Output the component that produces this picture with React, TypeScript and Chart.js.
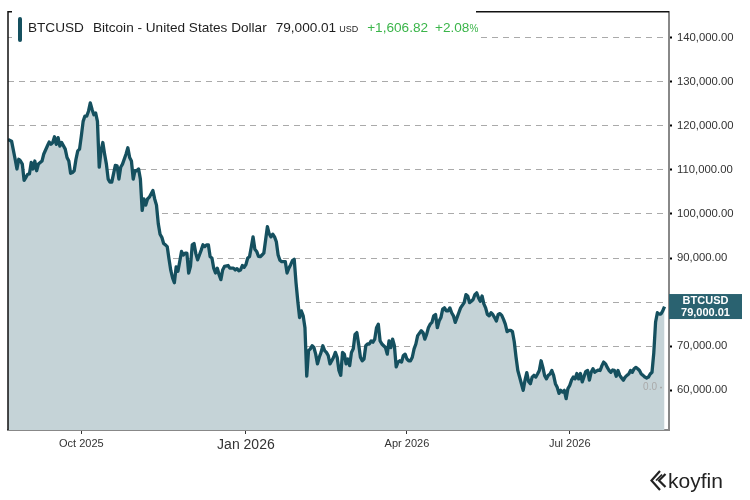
import React, { useEffect, useRef } from "react";
import { Chart, registerables } from "chart.js";

Chart.register(...registerables);

// Days counted from 2025-08-21
const dayIndex = [
  0, 2, 4, 5, 6, 7, 8, 9, 10, 11, 12, 13, 14, 15, 16, 17, 19, 20, 22, 23, 24, 25, 26, 27, 28, 29, 30, 32, 33, 34, 35, 36, 37, 38, 39, 40,
  41, 42, 43, 44, 45, 46, 47, 48, 49, 50, 51, 52, 53, 54, 55, 56, 57, 58, 60, 61, 62, 63, 64, 66, 67, 68, 69, 70, 71, 72, 73, 74, 75, 76,
  77, 78, 79, 81, 82, 83, 84, 85, 86, 87, 88, 89, 90, 91, 92, 93, 94, 95, 96, 97, 98, 99, 100, 101, 102, 103, 104, 105, 106, 107, 108,
  109, 110, 111, 112, 113, 114, 115, 116, 117, 118, 119, 120, 121, 123, 124, 126, 127, 128, 129, 130, 131, 132, 133, 134, 135, 136, 137,
  138, 139, 140, 141, 142, 143, 144, 145, 146, 147, 148, 149, 150, 151, 152, 153, 154, 155, 156, 157, 158, 159, 160, 161, 162, 163, 164,
  165, 166, 167, 168, 169, 170, 171, 172, 173, 174, 175, 176, 177, 178, 179, 180, 181, 182, 183, 184, 185, 186, 187, 188, 189, 190, 191,
  192, 193, 194, 195, 196, 197, 198, 199, 200, 201, 202, 203, 204, 205, 206, 207, 208, 209, 210, 211, 212, 213, 214, 215, 216, 217, 218,
  219, 220, 221, 222, 223, 224, 225, 226, 227, 228, 229, 231, 232, 233, 234, 235, 236, 237, 238, 239, 240, 241, 242, 243, 244, 245, 246,
  247, 248, 249, 250, 251, 252, 253, 255, 256, 257, 258, 259, 260, 261, 262, 263, 264, 265, 266, 267, 268, 269, 270, 271, 272, 273, 274,
  275, 276, 277, 278, 279, 280, 281, 282, 283, 284, 285, 286, 287, 288, 289, 290, 291, 292, 293, 294, 295, 296, 297, 298, 299, 300, 301,
  302, 303, 304, 305, 306, 307, 308, 309, 310, 311, 312, 313, 314, 315, 316, 317, 318, 319, 320, 321, 322, 323, 324, 325, 326, 327, 328,
  329, 330, 331, 332, 333, 334, 335, 336, 337, 338, 339, 340, 341, 342, 343, 344, 345, 346, 347, 348, 349, 350, 351, 352, 353, 354, 355,
  356, 357, 358, 359, 360, 361, 362, 363, 364, 365, 366, 367,
];

const prices = [
  116900, 116500, 112400, 110200, 112400, 112000, 111300, 107600, 108300, 109000, 109100, 111700, 110200, 112000, 109800, 111300, 112000,
  113600, 115400, 116300, 115800, 116200, 117500, 115800, 117300, 115400, 116200, 114700, 112800, 112000, 109200, 109400, 109800, 112400,
  114300, 114700, 117700, 121000, 122200, 122200, 123300, 125200, 123700, 122500, 122900, 121000, 110600, 114300, 116200, 113600, 111300,
  107900, 107200, 107200, 111000, 110900, 107900, 110600, 111300, 113600, 115000, 112800, 112000, 107900, 109800, 109800, 110200, 107900,
  100800, 103400, 102000, 103400, 103800, 105300, 103400, 102000, 97800, 95400, 94700, 93300, 93000, 92600, 89800, 87200, 85500, 84400,
  88000, 87000, 89200, 91500, 90700, 91100, 91100, 86600, 88100, 93000, 93300, 91000, 89600, 90700, 91800, 93000, 92600, 93000, 93000,
  90300, 90000, 87700, 86600, 87700, 86200, 85100, 87300, 88100, 88300, 87700, 87700, 87300, 87600, 87100, 87300, 88300, 87900, 88500,
  90000, 90300, 92500, 94800, 92000, 91500, 90400, 90300, 90700, 91100, 94100, 97100, 95500, 94800, 95400, 94800, 93700, 90700, 89500,
  89200, 89200, 89200, 86600, 87700, 88500, 89400, 89700, 84400, 80200, 76500, 78000, 76900, 74200, 63200, 69000, 69400, 70100, 69700,
  68200, 66000, 67500, 68600, 70100, 69000, 68600, 67900, 66000, 66700, 67500, 68600, 67500, 64500, 63400, 68600, 68200, 66000, 67100,
  65600, 68600, 69400, 72700, 73100, 70500, 67500, 66700, 67100, 70100, 70500, 70500, 71200, 70900, 71600, 74200, 75000, 71200, 70500,
  70100, 69700, 68200, 71200, 69700, 71600, 70100, 65300, 66400, 66700, 66400, 67900, 68200, 67100, 66700, 66700, 67500, 69400, 70500,
  72400, 73500, 73100, 71600, 72700, 74200, 75000, 75400, 76900, 77200, 74200, 75700, 76500, 78400, 78700, 78000, 78000, 78700, 77600,
  76900, 75400, 76500, 77600, 78700, 79900, 81700, 81400, 79900, 80200, 80600, 81700, 82100, 81000, 80200, 81400, 79600, 78700, 77200,
  76900, 77600, 77200, 76500, 75700, 77200, 77400, 77000, 76100, 75000, 73300, 73600, 73600, 73300, 71000, 67500, 64500, 63000, 61500,
  60000, 62300, 64000, 62000, 61500, 63000, 63400, 63000, 63700, 64500, 66700, 65200, 63300, 62600, 63400, 63700, 64500, 63400, 61500,
  60700, 59300, 60000, 59600, 60000, 58100, 60400, 61100, 62300, 63000, 62600, 63800, 62600, 63800, 61900, 63100, 64300, 64500, 62300,
  64100, 64900, 64100, 64400, 64600, 64500, 65600, 66400, 66000, 65200, 64500, 64100, 64600, 64500, 63200, 64500, 63400, 62800, 62300,
  63000, 63400, 63700, 64500, 64100, 64900, 65200, 64900, 64500, 63700, 63400, 63000, 62800, 63000, 63700, 64100, 68500, 75500, 77600,
  77300, 77300, 78000, 79000.01,
];

const xTickDays = [41, 133, 223, 314];
const xTickLabels = ["Oct 2025", "Jan 2026", "Apr 2026", "Jul 2026"];
const yTickValues = [60000, 70000, 80000, 90000, 100000, 110000, 120000, 130000, 140000];

const ticker = "BTCUSD";
const tickerName = "Bitcoin - United States Dollar";
const currency = "USD";
const changeAbs = "+1,606.82";
const changePct = "+2.08";
const markerLabel = "0.0";

const FONT = '"Liberation Sans", Arial, sans-serif';
const LINE = "#15505f";
const FILL = "#c5d3d7";
const BOX = "#2a6270";

const fmt2 = (v: number) =>
  v.toLocaleString("en-US", { minimumFractionDigits: 2, maximumFractionDigits: 2 });

const overlayPlugin = {
  id: "overlay",
  afterDraw(chart: any) {
    const { ctx, chartArea: a, scales } = chart;
    const last = prices[prices.length - 1];
    const y = scales.y.getPixelForValue(last);
    ctx.save();
    // frame lines (left + top)
    ctx.strokeStyle = "#111";
    ctx.lineWidth = 1.5;
    ctx.beginPath();
    ctx.moveTo(a.left, a.bottom);
    ctx.lineTo(a.left, a.top);
    ctx.lineTo(a.right, a.top);
    ctx.stroke();
    // marker label
    const my = scales.y.getPixelForValue(60000) - 3;
    ctx.fillStyle = "#aaa";
    ctx.font = `10px ${FONT}`;
    ctx.textAlign = "right";
    ctx.textBaseline = "middle";
    ctx.fillText(markerLabel, a.right - 12, my);
    ctx.fillRect(a.right - 9, my - 0.5, 2, 1.5);
    // last price box
    ctx.fillStyle = BOX;
    ctx.fillRect(a.right, y - 12.5, 73, 25);
    ctx.fillStyle = "#fff";
    ctx.font = `bold 11px ${FONT}`;
    ctx.textAlign = "center";
    ctx.fillText(ticker, a.right + 36.5, y - 5.5);
    ctx.fillText(fmt2(last), a.right + 36.5, y + 6);
    ctx.restore();
  },
};

export default function App() {
  const canvasRef = useRef<HTMLCanvasElement | null>(null);

  useEffect(() => {
    if (!canvasRef.current) return;
    Chart.defaults.font.family = FONT;
    const chart = new Chart(canvasRef.current, {
      type: "line",
      data: {
        datasets: [
          {
            data: dayIndex.map((d, i) => ({ x: d, y: prices[i] })),
            borderColor: LINE,
            backgroundColor: FILL,
            borderWidth: 3.3,
            fill: "start",
            pointRadius: 0,
            tension: 0,
            borderJoinStyle: "round",
          },
        ],
      },
      options: {
        animation: false,
        responsive: true,
        maintainAspectRatio: false,
        layout: { padding: { left: 8, top: 8, right: 0, bottom: 0 } },
        plugins: { legend: { display: false }, tooltip: { enabled: false } },
        scales: {
          x: {
            type: "linear",
            min: 0,
            max: 369.5,
            afterBuildTicks: (scale: any) => {
              scale.ticks = xTickDays.map((v) => ({ value: v }));
            },
            afterFit: (scale: any) => {
              scale.height = 70;
            },
            grid: {
              display: true,
              drawOnChartArea: false,
              drawTicks: true,
              tickLength: 4,
              tickColor: "#333",
              tickWidth: 1,
            },
            border: { display: true, color: "#888", width: 2 },
            ticks: {
              autoSkip: false,
              maxRotation: 0,
              padding: 3,
              color: "#333",
              font: (ctx: any) =>
                ctx.tick && ctx.tick.value === 133 ? { size: 14, family: FONT } : { size: 11, family: FONT },
              callback: (v: any) => {
                const i = xTickDays.indexOf(Number(v));
                return i >= 0 ? xTickLabels[i] : "";
              },
            },
          },
          y: {
            type: "linear",
            position: "right",
            min: 51000,
            max: 145850,
            afterBuildTicks: (scale: any) => {
              scale.ticks = yTickValues.map((v) => ({ value: v }));
            },
            afterFit: (scale: any) => {
              scale.width = 81;
            },
            grid: {
              color: "#aaa",
              lineWidth: 1,
              drawTicks: true,
              tickLength: 3,
              tickColor: "#000",
              tickWidth: 2,
            },
            border: { display: true, color: "#888", width: 2, dash: [6, 5] },
            ticks: {
              padding: 5,
              color: "#333",
              font: { size: 11.3, family: FONT },
              callback: (v: any) => fmt2(Number(v)),
            },
          },
        },
      },
      plugins: [overlayPlugin],
    } as any);
    return () => chart.destroy();
  }, []);

  const last = prices[prices.length - 1];

  return (
    <div style={{ position: "fixed", left: 0, top: 0, width: 750, height: 500, background: "#fff", overflow: "hidden" }}>
      <canvas ref={canvasRef} style={{ position: "absolute", left: 0, top: 0, width: 750, height: 500 }} />
      <div style={{ position: "absolute", left: 12, top: 10, width: 464, height: 40, background: "#fff" }}>
        <div style={{ position: "absolute", left: 6, top: 7, width: 4, height: 25, borderRadius: 2, background: LINE }} />
        <div
          style={{
            position: "absolute",
            left: 16,
            top: 10,
            whiteSpace: "nowrap",
            fontFamily: FONT,
            fontSize: 13.6,
            lineHeight: "15px",
            color: "#1e1e1e",
            display: "flex",
            alignItems: "baseline",
          }}
        >
          <span>{ticker}</span>
          <span style={{ marginLeft: 9 }}>{tickerName}</span>
          <span style={{ marginLeft: 9 }}>{fmt2(last)}</span>
          <span style={{ marginLeft: 3, fontSize: 9 }}>{currency}</span>
          <span style={{ marginLeft: 9, color: "#3bb54a" }}>{changeAbs}</span>
          <span style={{ marginLeft: 7, color: "#3bb54a" }}>
            {changePct}
            <span style={{ fontSize: 10 }}>%</span>
          </span>
        </div>
      </div>
      <div style={{ position: "absolute", left: 650, top: 469, height: 22, display: "flex", alignItems: "center" }}>
        <svg width="17" height="21" viewBox="0 0 17 21" style={{ display: "block" }}>
          <polyline points="10,1 1.5,10.5 10,20" fill="none" stroke="#222" strokeWidth="2.2" strokeLinejoin="miter" />
          <polyline points="15.5,4 9,10.5 15.5,17" fill="none" stroke="#222" strokeWidth="2.2" />
          <line x1="6" y1="10.5" x2="12" y2="4.5" stroke="#222" strokeWidth="1.6" />
        </svg>
        <span style={{ marginLeft: 1, fontFamily: FONT, fontSize: 21, lineHeight: "21px", color: "#222" }}>koyfin</span>
      </div>
    </div>
  );
}
